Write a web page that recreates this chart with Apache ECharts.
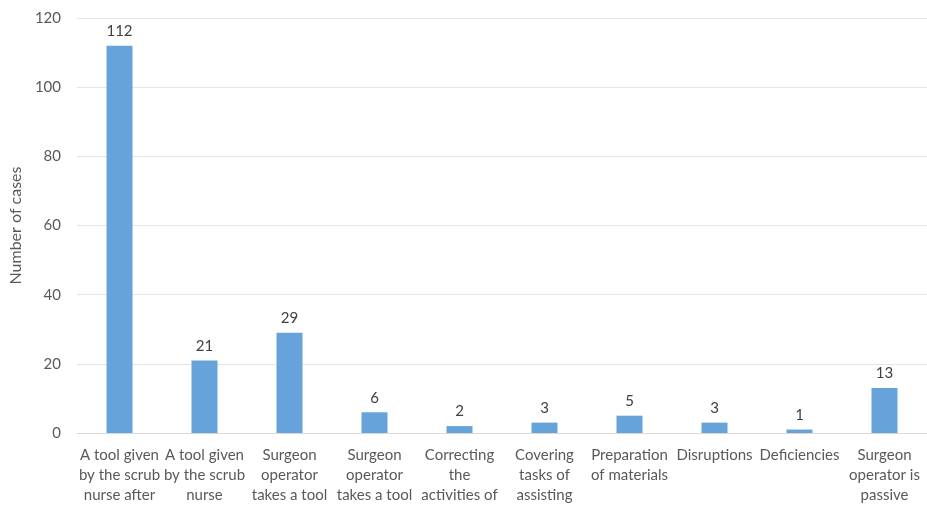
<!DOCTYPE html>
<html><head><meta charset="utf-8">
<script src="https://cdn.jsdelivr.net/npm/echarts@6/dist/echarts.min.js"></script>
<style>html,body{margin:0;padding:0;background:#fff}#c{width:927px;height:505px}</style>
</head><body><div id="c"></div>
<script>
const categories = [
  "A tool given\nby the scrub\nnurse after",
  "A tool given\nby the scrub\nnurse",
  "Surgeon\noperator\ntakes a tool",
  "Surgeon\noperator\ntakes a tool",
  "Correcting\nthe\nactivities of",
  "Covering\ntasks of\nassisting",
  "Preparation\nof materials",
  "Disruptions",
  "Deficiencies",
  "Surgeon\noperator is\npassive"
];
const values = [112, 21, 29, 6, 2, 3, 5, 3, 1, 13];
const yTicks = {min: 0, max: 120, interval: 20};
const yName = "Number of cases";

const chart = echarts.init(document.getElementById('c'));
chart.setOption({
  animation: false,
  textStyle: {fontFamily: 'Lato'},
  grid: {left: 73, right: -6, top: 18, bottom: 70, containLabel: false},
  xAxis: {
    type: 'category', data: categories,
    axisLine: {lineStyle: {color: '#d9d9d9'}},
    axisTick: {show: false},
    axisLabel: {interval: 0, color: '#595959', fontSize: 15, lineHeight: 20, margin: 12, fontFamily: 'Lato'}
  },
  yAxis: {
    type: 'value', min: yTicks.min, max: yTicks.max, interval: yTicks.interval,
    name: yName, nameLocation: 'middle', nameGap: 49, nameRotate: 90,
    nameTextStyle: {color: '#595959', fontSize: 16, fontFamily: 'Lato'},
    axisLine: {show: false}, axisTick: {show: false},
    axisLabel: {color: '#595959', fontSize: 15, margin: 16, fontFamily: 'Lato'},
    splitLine: {lineStyle: {color: '#e5e5e5'}}
  },
  series: [{
    type: 'bar', data: values, barWidth: 26,
    itemStyle: {color: '#65a3da'},
    label: {show: true, position: 'top', color: '#404040', fontSize: 15, distance: 7, fontFamily: 'Lato'}
  }]
});
</script></body></html>
